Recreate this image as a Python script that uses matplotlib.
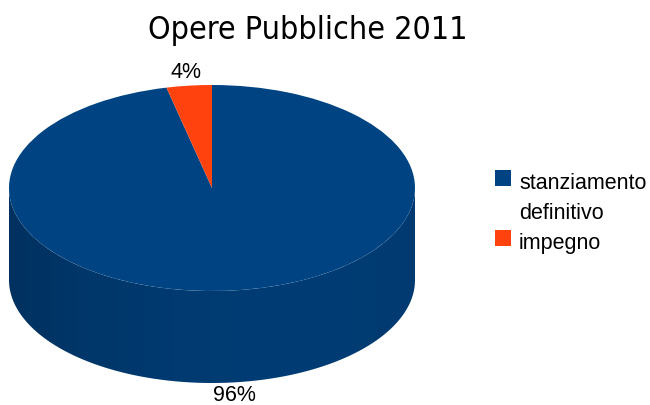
"""Opere Pubbliche 2011: pseudo-3D pie, one axes spanning the figure in ellipse units."""

import numpy as np
import matplotlib
matplotlib.use("Agg")
import matplotlib.pyplot as plt
from matplotlib.colors import LinearSegmentedColormap
from matplotlib.patches import Polygon, Rectangle

labels = ["stanziamento\ndefinitivo", "impegno"]
values = [96.4, 3.6]
pct_labels = ["96%", "4%"]
colors = ["#004382", "#ff420e"]
title = "Opere Pubbliche 2011"

W, H = 650, 405
CX, CY = 212, 188  # top ellipse centre, px
RX, RY = 203, 103  # top ellipse radii, px
DEPTH = 92 / RY
FS = 15.5

plt.rcParams["font.family"] = ["Liberation Sans", "DejaVu Sans"]

fig = plt.figure(figsize=(W / 100, H / 100), dpi=100)
ax = fig.add_axes([0, 0, 1, 1])

wedges, _ = ax.pie(values, colors=colors, startangle=90, counterclock=False, radius=1,
                   wedgeprops={"linewidth": 0, "zorder": 3})

# side wall, shaded left to right and clipped to the lower half of the cylinder
t = np.linspace(np.pi, 2 * np.pi, 200)
wall = np.concatenate([
    np.column_stack([np.cos(t), np.sin(t) - DEPTH]),
    np.column_stack([np.cos(t[::-1]), np.sin(t[::-1])]),
])
shade = LinearSegmentedColormap.from_list(
    "side", ["#003160", "#00376a", "#003a70", "#003c74", "#003c74", "#003a70"])
grad = ax.imshow(np.linspace(0, 1, 256)[None, :], cmap=shade, aspect="auto",
                 extent=(-1, 1, -1 - DEPTH, 0), zorder=2)
clip = Polygon(wall, closed=True, facecolor="none", edgecolor="none", transform=ax.transData)
ax.add_patch(clip)
grad.set_clip_path(clip)
ax.set_xlim(-CX / RX, (W - CX) / RX)
ax.set_ylim((CY - H) / RY, CY / RY)
ax.set_aspect("auto")

fig.text(308 / W, 1 - 30 / H, title, ha="center", va="center", fontsize=23,
         family=["DejaVu Sans"], stretch="condensed", color="#000000")
fig.text(234.5 / W, 1 - 395.5 / H, pct_labels[0], ha="center", va="center", fontsize=FS)
fig.text(186 / W, 1 - 72 / H, pct_labels[1], ha="center", va="center", fontsize=FS)

# legend by hand: the swatch sits on the first line of a wrapped label, lines are 30 px apart
row_y = 178
for label, color in zip(labels, colors):
    fig.add_artist(Rectangle((495 / W, 1 - (row_y + 8) / H), 16 / W, 16 / H,
                             facecolor=color, linewidth=0, transform=fig.transFigure))
    for line in label.split("\n"):
        fig.text(519 / W, 1 - (row_y + 11) / H, line, ha="left", va="baseline", fontsize=FS)
        row_y += 30

fig.savefig("out.png", dpi=100)
